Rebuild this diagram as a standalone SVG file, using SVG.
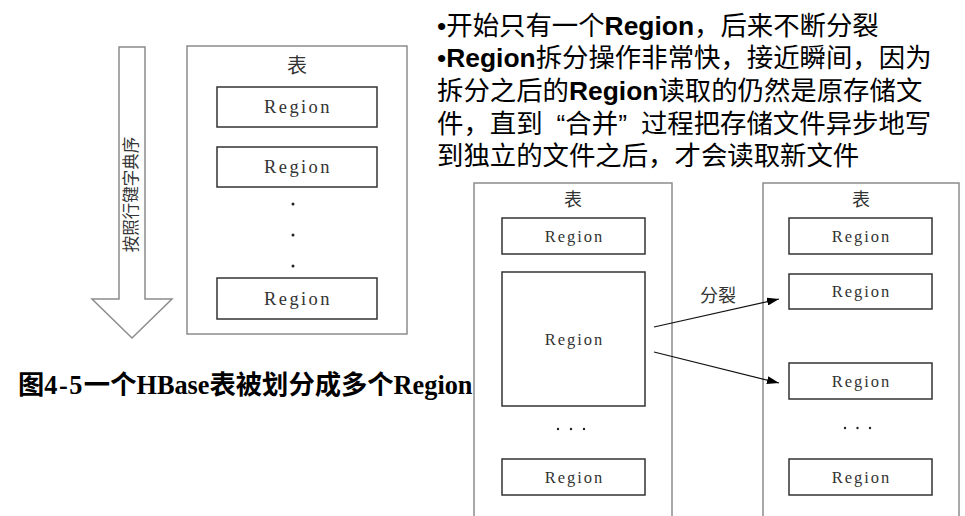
<svg xmlns="http://www.w3.org/2000/svg" width="965" height="516" viewBox="0 0 965 516">
<style>
.tbl{fill:#fff;stroke:#8c8c8c;stroke-width:1.5}
.reg{fill:#fff;stroke:#333;stroke-width:1.5}
.rt{font-family:"Liberation Serif",serif;fill:#333;text-anchor:middle}
.rl{font-size:18.5px;letter-spacing:2.4px}
.rs{font-size:16.5px;letter-spacing:2px}
.cj{font-family:"Noto Sans CJK SC",sans-serif;fill:#333;text-anchor:middle}
.top{font-family:"Liberation Sans","Noto Sans CJK SC",sans-serif;font-size:26.4px;fill:#000}
.b{font-weight:bold}
.dot{fill:#222}
.con{stroke:#111;stroke-width:1.2;fill:none}
</style>
<defs>
<marker id="ah" viewBox="0 0 12 8" refX="12" refY="4" markerWidth="12" markerHeight="8" markerUnits="userSpaceOnUse" orient="auto">
<path d="M0,0 L12,4 L0,8 Z" fill="#000"/>
</marker>
</defs>
<g id="sort-arrow">
<path d="M119,47 L145,47 L145,299 L172,299 L132,338 L92,299 L119,299 Z" fill="#fff" stroke="#8c8c8c" stroke-width="1.5"/>
<text class="cj" font-size="16.5" transform="translate(137,194.5) rotate(-90)" text-anchor="middle">按照行键字典序</text>
</g>
<g id="table-left">
<rect class="tbl" x="187" y="46" width="220" height="288"/>
<text class="cj" x="297" y="73" font-size="20">表</text>
<rect class="reg" x="217" y="87" width="160" height="40"/>
<text class="rt rl" x="298" y="113">Region</text>
<rect class="reg" x="217" y="147" width="160" height="40"/>
<text class="rt rl" x="298" y="173">Region</text>
<circle class="dot" cx="293" cy="204" r="1.5"/>
<circle class="dot" cx="293" cy="235" r="1.5"/>
<circle class="dot" cx="293" cy="266" r="1.5"/>
<rect class="reg" x="217" y="278" width="160" height="41"/>
<text class="rt rl" x="298" y="305">Region</text>
</g>
<g id="description">
<text class="top" x="437" y="35">•开始只有一个<tspan class="b">Region</tspan>，后来不断分裂</text>
<text class="top" x="437" y="67">•<tspan class="b">Region</tspan>拆分操作非常快，接近瞬间，因为</text>
<text class="top" x="437" y="100">拆分之后的<tspan class="b">Region</tspan>读取的仍然是原存储文</text>
<text class="top" x="437" y="133">件，直到<tspan dx="14">“合并”</tspan><tspan dx="14">过程把存储文件异步地写</tspan></text>
<text class="top" x="437" y="165">到独立的文件之后，才会读取新文件</text>
</g>
<g id="caption">
<text x="18" y="394" font-family="'Liberation Serif','Noto Sans CJK SC',serif" font-size="26.3" font-weight="bold" fill="#000">图<tspan letter-spacing="1.5">4-5</tspan>一个HBase表被划分成多个Region</text>
</g>
<g id="table-middle">
<rect class="tbl" x="474" y="183" width="198" height="340"/>
<text class="cj" x="573" y="206" font-size="18">表</text>
<rect class="reg" x="502" y="218" width="143" height="36"/>
<text class="rt rs" x="574.5" y="242">Region</text>
<rect class="reg" x="502" y="272" width="143" height="134"/>
<text class="rt rs" x="574.5" y="345">Region</text>
<circle class="dot" cx="558" cy="429" r="1.2"/>
<circle class="dot" cx="571" cy="429" r="1.2"/>
<circle class="dot" cx="584" cy="429" r="1.2"/>
<rect class="reg" x="502" y="459" width="143" height="36"/>
<text class="rt rs" x="574.5" y="483">Region</text>
</g>
<g id="table-right">
<rect class="tbl" x="763" y="183" width="196" height="340"/>
<text class="cj" x="861" y="206" font-size="18">表</text>
<rect class="reg" x="789" y="218" width="143" height="36"/>
<text class="rt rs" x="861.5" y="242">Region</text>
<rect class="reg" x="789" y="274" width="143" height="35"/>
<text class="rt rs" x="861.5" y="297">Region</text>
<rect class="reg" x="789" y="363" width="143" height="36"/>
<text class="rt rs" x="861.5" y="387">Region</text>
<circle class="dot" cx="845" cy="428" r="1.2"/>
<circle class="dot" cx="857.5" cy="428" r="1.2"/>
<circle class="dot" cx="870" cy="428" r="1.2"/>
<rect class="reg" x="789" y="459" width="143" height="36"/>
<text class="rt rs" x="861.5" y="483">Region</text>
</g>
<g id="connectors">
<line class="con" x1="654" y1="327" x2="779" y2="299" marker-end="url(#ah)"/>
<line class="con" x1="654" y1="352" x2="779" y2="383" marker-end="url(#ah)"/>
<text class="cj" x="718" y="302" font-size="18">分裂</text>
</g>
</svg>
